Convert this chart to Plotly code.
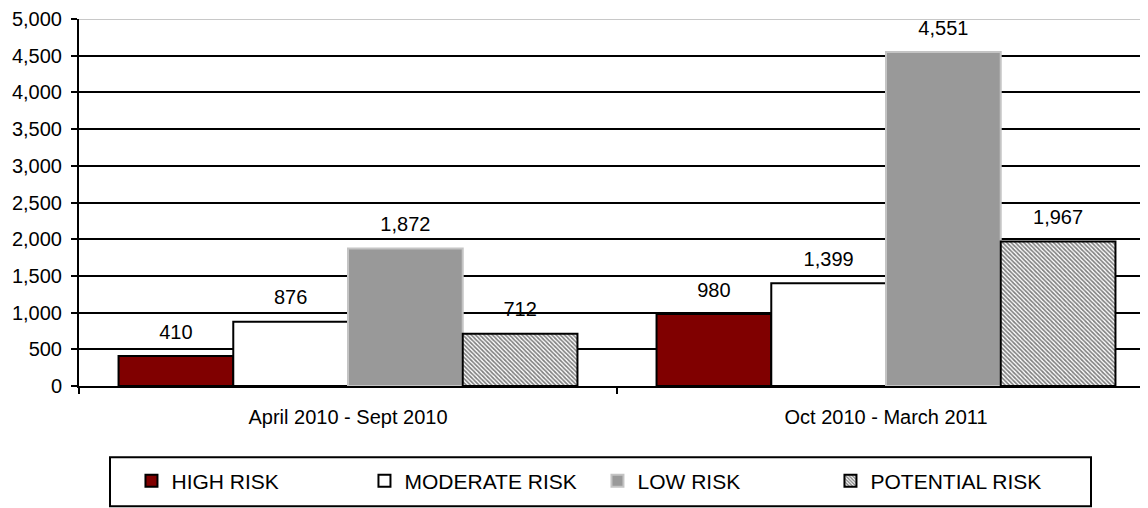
import plotly.graph_objects as go

periods = ["April 2010 - Sept 2010", "Oct 2010 - March 2011"]
series_names = ["HIGH RISK", "MODERATE RISK", "LOW RISK", "POTENTIAL RISK"]
high_risk = [410, 980]
moderate_risk = [876, 1399]
low_risk = [1872, 4551]
potential_risk = [712, 1967]
y_ticks = list(range(0, 5001, 500))

styles = [
    dict(color="#800000", line=dict(color="black", width=2)),
    dict(color="white", line=dict(color="black", width=2)),
    dict(color="#999999", line=dict(color="#c4c4c4", width=2)),
    dict(color="white", line=dict(color="black", width=2),
         pattern=dict(shape="\\", fgcolor="black", bgcolor="white", size=3, solidity=0.55)),
]

# the page body adds an 8px margin, so the figure is laid out 8px smaller
W, H = 1140, 500
L, T, B = 71, 10.5, 121.5
plot_h = H - T - B

fig = go.Figure()
for name, vals, st in zip(series_names, [high_risk, moderate_risk, low_risk, potential_risk], styles):
    fig.add_trace(go.Bar(x=periods, y=vals, name=name, marker=st, offsetgroup=name))
for name, vals in zip(series_names, [high_risk, moderate_risk, low_risk, potential_risk]):
    # value labels, a little above each bar
    fig.add_trace(go.Scatter(x=periods, y=vals, mode="markers+text", offsetgroup=name,
                             text=[f"{v:,}" for v in vals], textposition="top center",
                             textfont=dict(size=20, color="black"),
                             marker=dict(size=18, color="rgba(0,0,0,0)"),
                             showlegend=False, hoverinfo="skip", cliponaxis=False))

fig.add_hline(y=5000, line_color="#c8c8c8", line_width=2, layer="below")

# legend frame
fig.add_shape(type="rect", xref="paper", yref="paper",
              x0=(110 - 79) / 1069, x1=(1091 - 79) / 1069,
              y0=(378.5 - 499) / plot_h, y1=(378.5 - 450) / plot_h,
              line=dict(color="black", width=2), fillcolor="rgba(0,0,0,0)")

fig.update_layout(
    width=W, height=H,
    margin=dict(l=L, r=0, t=T, b=B, pad=0),
    paper_bgcolor="white", plot_bgcolor="white",
    font=dict(family="Liberation Sans, Arial, sans-serif", size=20, color="black"),
    barmode="group", bargap=0.147, bargroupgap=0,
    scattermode="group", scattergap=0.147,
    showlegend=True,
    legend=dict(orientation="h", xref="paper", x=0.485, xanchor="center",
                yref="container", y=(H - 473) / H, yanchor="middle",
                borderwidth=0, entrywidth=188, itemwidth=30,
                font=dict(size=21), bgcolor="rgba(0,0,0,0)"),
)
fig.update_yaxes(range=[0, 5000], tickvals=y_ticks, tickformat=",d",
                 showgrid=True, gridcolor="black", gridwidth=2,
                 showline=True, linecolor="black", linewidth=2,
                 ticks="outside", ticklen=6, tickwidth=2, tickcolor="black",
                 ticklabelstandoff=5, zeroline=False, automargin=False)
fig.update_xaxes(range=[-0.5, -0.5 + 1069 / 538],
                 showline=True, linecolor="black", linewidth=2,
                 ticks="outside", tickson="boundaries", ticklen=6, tickwidth=2,
                 tickcolor="black", showgrid=False, ticklabelstandoff=12,
                 automargin=False)

fig.write_html("out.html")
